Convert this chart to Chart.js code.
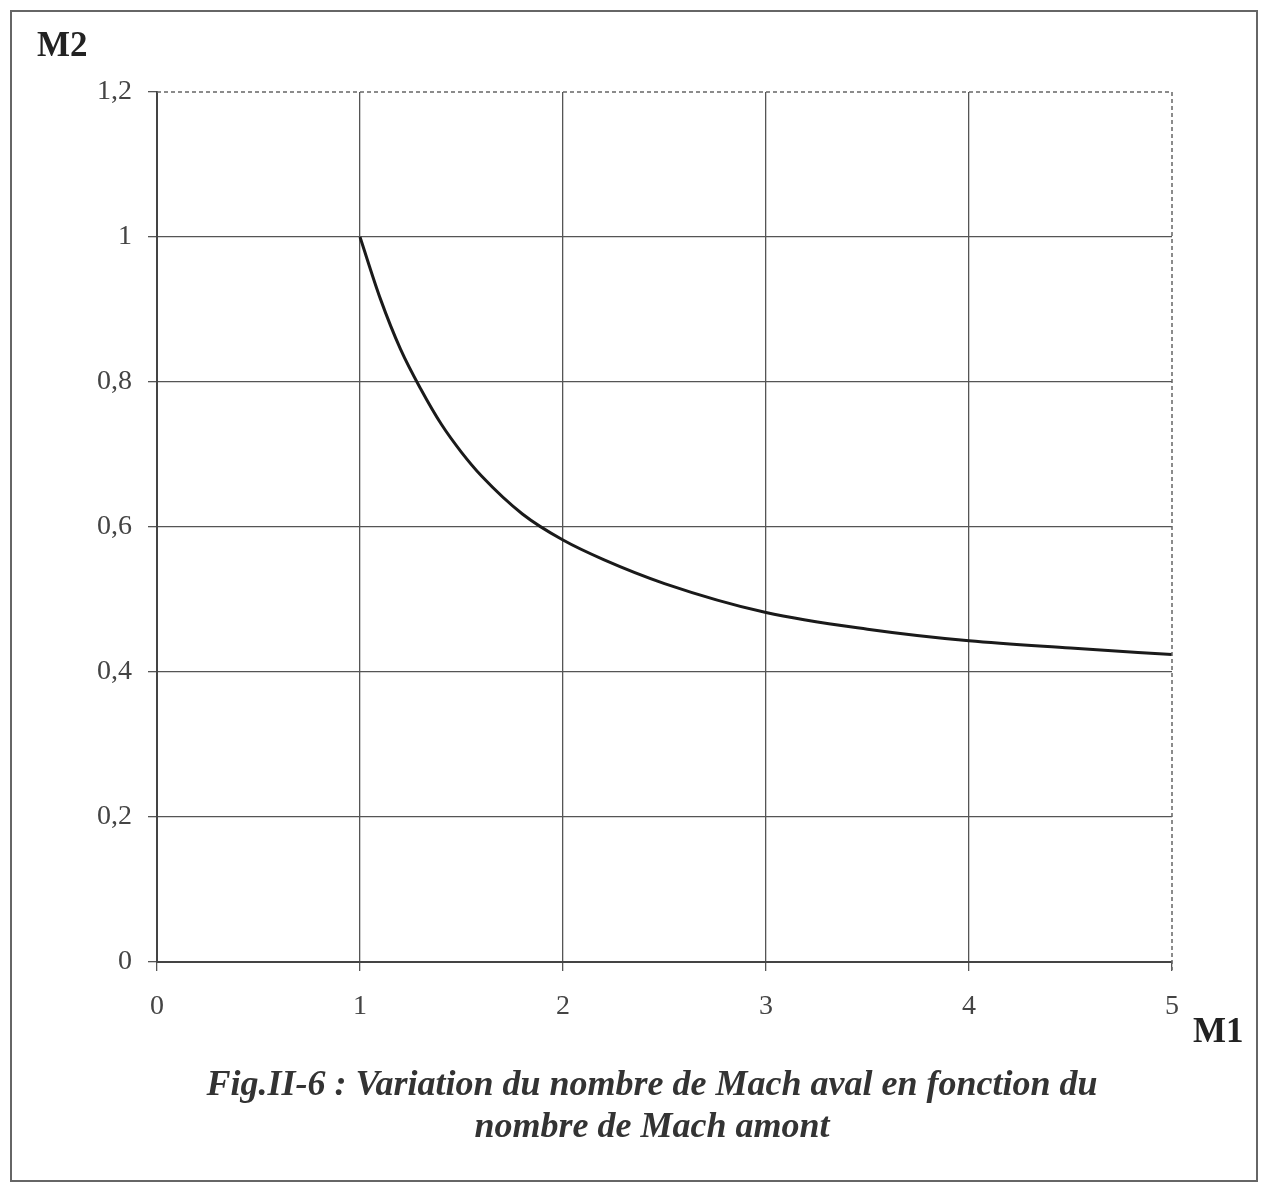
<!DOCTYPE html>
<html lang="fr">
<head>
    <meta charset="UTF-8">
    <title>Fig.II-6 Mach aval / Mach amont</title>
    <script src="https://cdn.jsdelivr.net/npm/chart.js"></script>
    <style>
        body {
            margin: 0;
            padding: 0;
            background: #fff;
            font-family: "Liberation Serif", "DejaVu Serif", serif;
        }
        .page {
            position: relative;
            width: 1261px;
            height: 1185px;
        }
        .frame {
            position: absolute;
            left: 10px;
            top: 10px;
            width: 1248px;
            height: 1172px;
            border: 2px solid #666;
            box-sizing: border-box;
        }
        #plot {
            position: absolute;
            left: 0;
            top: 0;
        }
        .axis-label {
            position: absolute;
            font-weight: bold;
            font-size: 35px;
            color: #222;
        }
        .caption {
            position: absolute;
            left: 0;
            width: 1304px;
            text-align: center;
            font-weight: bold;
            font-style: italic;
            font-size: 36px;
            color: #333;
            line-height: 42px;
        }
    </style>
</head>
<body>
<div class="page">
    <div class="frame"></div>
    <canvas id="plot" width="1261" height="1185"></canvas>
    <div class="axis-label" style="left:37px; top:25px;">M2</div>
    <div class="axis-label" style="left:1193px; top:1011px;">M1</div>
    <div class="caption" style="top:1062px;">Fig.II-6 : Variation du nombre de Mach aval en fonction du<br>nombre de Mach amont</div>
</div>

<script>
    // M1 (amont) -> M2 (aval)
    const machAmont = [1, 1.1, 1.2, 1.3, 1.4, 1.5, 1.6, 1.8, 2, 2.2, 2.5, 3, 3.5, 4, 4.5, 5];
    const machAval = [1.0, 0.915, 0.845, 0.79, 0.742, 0.703, 0.67, 0.618, 0.582, 0.555, 0.522, 0.482, 0.459, 0.443, 0.433, 0.424];

    const xTicks = [0, 1, 2, 3, 4, 5];
    const yTicks = [0, 0.2, 0.4, 0.6, 0.8, 1, 1.2];

    function frNum(v) {
        return String(Math.round(v * 10) / 10).replace('.', ',');
    }

    // dotted border on top / right of the plot area, like the original
    const dottedBorder = {
        id: 'dottedBorder',
        afterDatasetsDraw(chart) {
            const ctx = chart.ctx;
            const x = chart.scales.x, y = chart.scales.y;
            const x0 = x.getPixelForValue(xTicks[0]);
            const x1 = x.getPixelForValue(xTicks[xTicks.length - 1]);
            const y0 = y.getPixelForValue(yTicks[0]);
            const y1 = y.getPixelForValue(yTicks[yTicks.length - 1]);
            ctx.save();
            ctx.strokeStyle = '#666';
            ctx.lineWidth = 1.5;
            ctx.setLineDash([4, 3]);
            ctx.beginPath();
            ctx.moveTo(x0, y1);
            ctx.lineTo(x1, y1);
            ctx.lineTo(x1, y0 + 8);
            ctx.stroke();
            ctx.restore();
        }
    };

    const ctx = document.getElementById('plot').getContext('2d');
    new Chart(ctx, {
        type: 'line',
        data: {
            datasets: [{
                data: machAmont.map((m, i) => ({ x: m, y: machAval[i] })),
                borderColor: '#1a1a1a',
                borderWidth: 3,
                pointRadius: 0,
                cubicInterpolationMode: 'monotone',
                fill: false
            }]
        },
        options: {
            responsive: false,
            animation: false,
            layout: {
                padding: { left: 0, top: 92, right: 89, bottom: 163 }
            },
            plugins: {
                legend: { display: false },
                tooltip: { enabled: false }
            },
            scales: {
                x: {
                    type: 'linear',
                    min: 0,
                    max: 5,
                    afterBuildTicks: s => { s.ticks = xTicks.map(v => ({ value: v })); },
                    afterFit: s => { s.height = 60; },
                    grid: {
                        color: c => (c.index === xTicks.length - 1 ? 'rgba(0,0,0,0)' : '#555'),
                        lineWidth: 1.3,
                        tickLength: 9,
                        tickColor: '#555'
                    },
                    border: { display: true, color: '#444', width: 2 },
                    ticks: {
                        padding: 19,
                        color: '#444',
                        font: { family: 'Liberation Serif', size: 28 },
                        callback: v => frNum(v)
                    }
                },
                y: {
                    min: 0,
                    max: 1.2,
                    afterBuildTicks: s => { s.ticks = yTicks.map(v => ({ value: v })); },
                    afterFit: s => { s.width = 157; },
                    grid: {
                        color: c => (c.index === yTicks.length - 1 ? 'rgba(0,0,0,0)' : '#555'),
                        lineWidth: 1.3,
                        tickLength: 9,
                        tickColor: '#555'
                    },
                    border: { display: true, color: '#444', width: 2 },
                    ticks: {
                        padding: 16,
                        color: '#444',
                        font: { family: 'Liberation Serif', size: 28 },
                        callback: v => frNum(v)
                    }
                }
            }
        },
        plugins: [dottedBorder]
    });
</script>
</body>
</html>
